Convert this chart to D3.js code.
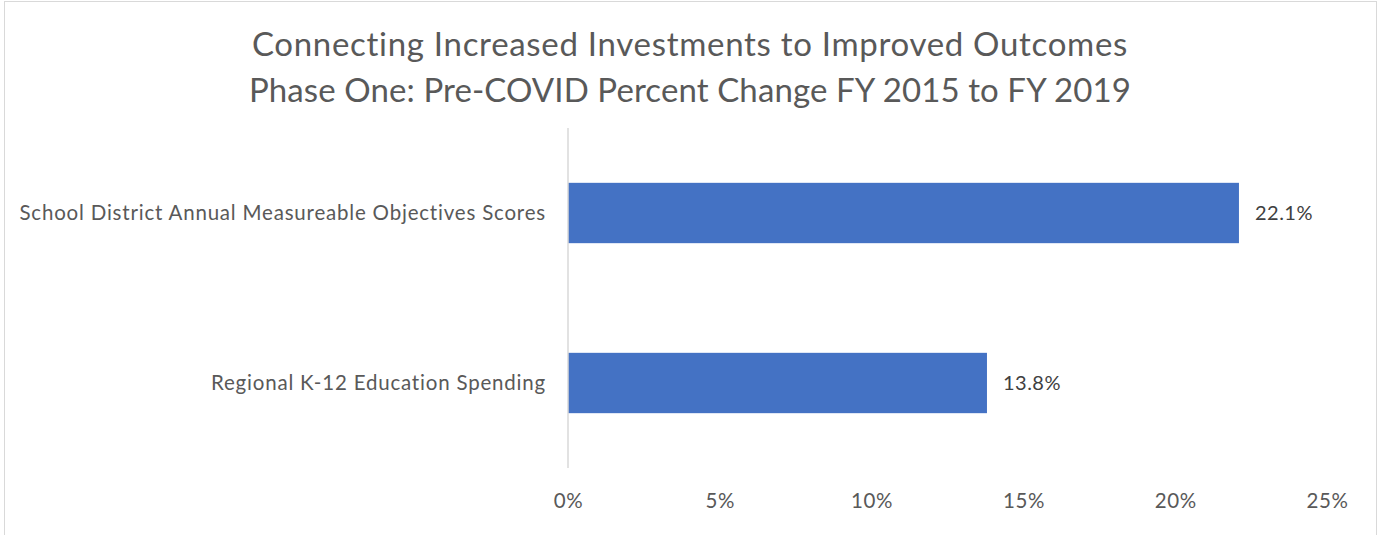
<!DOCTYPE html>
<html>
<head>
<script src="https://d3js.org/d3.v7.min.js"></script>
<style>
body { margin: 0; background: #fff; }
svg text { font-family: Lato, "Open Sans", sans-serif; }
</style>
</head>
<body>
<svg id="chart"></svg>
<script>
// chart data
var titleLines = ["Connecting Increased Investments to Improved Outcomes",
                  "Phase One: Pre-COVID Percent Change FY 2015 to FY 2019"];
var categories = ["School District Annual Measureable Objectives Scores",
                  "Regional K-12 Education Spending"];
var values = [22.1, 13.8];
var tickValues = [0, 5, 10, 15, 20, 25];

var width = 1380, height = 535;
var margin = {top: 128, right: 53, bottom: 67, left: 568};

var svg = d3.select("#chart")
  .attr("width", width)
  .attr("height", height);

// outer chart border
svg.append("rect")
  .attr("x", 4.5).attr("y", 1.5)
  .attr("width", 1372).attr("height", 560)
  .attr("fill", "#fff")
  .attr("stroke", "#d9d9d9");

// title - second line has wide digits so it gets tighter spacing
svg.selectAll(".title")
  .data(titleLines)
  .enter().append("text")
  .attr("class", "title")
  .attr("x", 690)
  .attr("y", function(d, i) { return 56 + i * 46; })
  .attr("text-anchor", "middle")
  .attr("fill", "#595959")
  .style("font-size", "33px")
  .style("letter-spacing", function(d, i) { return i ? "0.1px" : "0.7px"; })
  .text(function(d) { return d; });

var x = d3.scaleLinear()
  .domain([0, 25])
  .range([margin.left, width - margin.right]);

var y = d3.scaleBand()
  .domain(categories)
  .range([margin.top, height - margin.bottom])
  .paddingInner(0.645)
  .paddingOuter(0.3225);

// bars
svg.selectAll(".bar")
  .data(values)
  .enter().append("rect")
  .attr("class", "bar")
  .attr("x", x(0))
  .attr("y", function(d, i) { return y(categories[i]); })
  .attr("width", function(d) { return x(d) - x(0); })
  .attr("height", y.bandwidth())
  .attr("fill", "#4472c4");

// vertical axis line
svg.append("line")
  .attr("x1", x(0)).attr("x2", x(0))
  .attr("y1", margin.top).attr("y2", height - margin.bottom)
  .attr("stroke", "#d9d9d9")
  .attr("stroke-width", 1.5);

// category labels
svg.selectAll(".cat")
  .data(categories)
  .enter().append("text")
  .attr("class", "cat")
  .attr("x", x(0) - 22)
  .attr("y", function(d) { return y(d) + y.bandwidth() / 2; })
  .attr("dy", "0.35em")
  .attr("text-anchor", "end")
  .attr("fill", "#595959")
  .style("font-size", "20.5px")
  .style("letter-spacing", "0.8px")
  .text(function(d) { return d; });

// value labels
svg.selectAll(".val")
  .data(values)
  .enter().append("text")
  .attr("class", "val")
  .attr("x", function(d) { return x(d) + 16; })
  .attr("y", function(d, i) { return y(categories[i]) + y.bandwidth() / 2; })
  .attr("dy", "0.35em")
  .attr("fill", "#404040")
  .style("font-size", "20px")
  .style("letter-spacing", "0.5px")
  .text(function(d) { return d.toFixed(1) + "%"; });

// x axis tick labels
var xAxis = d3.axisBottom(x)
  .tickValues(tickValues)
  .tickSize(0)
  .tickPadding(0)
  .tickFormat(function(d) { return d + "%"; });

var gx = svg.append("g")
  .attr("transform", "translate(0," + (height - margin.bottom) + ")")
  .call(xAxis);
gx.select(".domain").remove();
gx.selectAll("text")
  .attr("y", 40)
  .attr("dy", null)
  .attr("fill", "#595959")
  .style("font-family", "Lato, Open Sans, sans-serif")
  .style("font-size", "20.5px")
  .style("letter-spacing", "0.6px");
</script>
</body>
</html>
